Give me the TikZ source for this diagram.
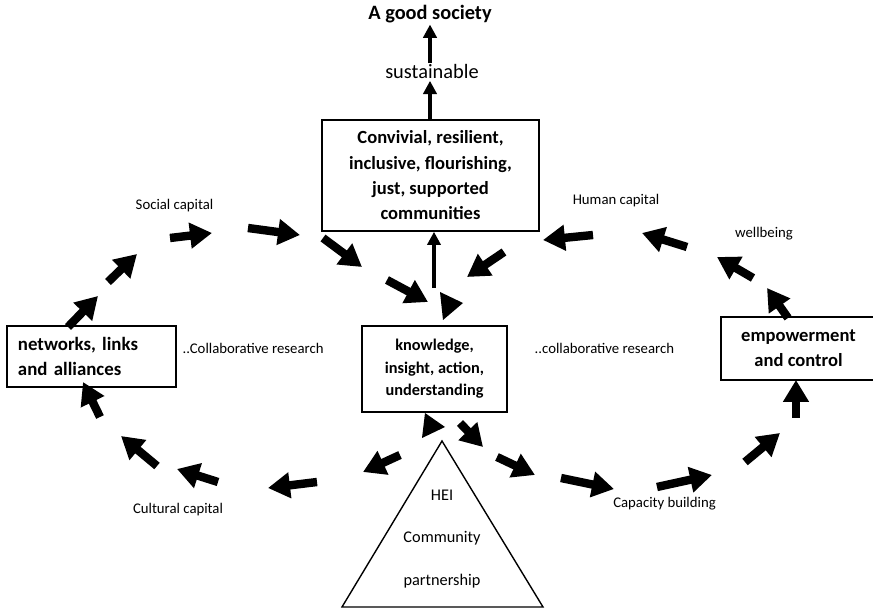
\documentclass[tikz,border=0pt]{standalone}
\usepackage{fontspec}
\setmainfont{Carlito}
\usetikzlibrary{arrows.meta,positioning,calc}
\def\boxline{0.4mm}
\def\labelsize{\fontsize{10.5}{12}\selectfont}
\def\boxsize{\fontsize{13.2}{18}\selectfont}

\tikzset{
  box/.style={draw, line width=\boxline, inner sep=0pt, align=center, font=\boxsize\bfseries},
  label/.style={font=\labelsize, inner sep=1pt},
  blockarrow/.style={line width=2.1mm, -{Triangle[length=5.5mm,width=6.2mm]}},
  thinarrow/.style={line width=0.9mm, -{Triangle[length=3.3mm,width=3.3mm]}},
}

\begin{document}
\begin{tikzpicture}[x=0.25mm, y=-0.25mm]
  \useasboundingbox (0,0) rectangle (873,610);

  % top of the chain
  \node[font=\fontsize{14.5}{16}\selectfont\bfseries, inner sep=1pt] (goodsoc) at (430,14) {A good society};
  \node[font=\fontsize{14.5}{16}\selectfont, inner sep=1pt] (sust) at (432,72) {sustainable};

  \node[box, minimum width=54.25mm, minimum height=27.75mm] (community) at (430.5,175.5)
    {Convivial, resilient,\\inclusive, flourishing,\\just, supported\\communities};

  \node[box, minimum width=36.25mm, minimum height=21.5mm, font=\fontsize{11.6}{16}\selectfont\bfseries] (knowledge) at (434.5,369)
    {knowledge,\\insight, action,\\understanding};

  \node[box, text width=36.75mm, inner xsep=2.75mm, minimum height=15.25mm, align=left,
        font=\fontsize{13.4}{18.4}\selectfont\bfseries] (networks) at (91.5,356.5)
    {networks, links\\and alliances};

  \node[box, minimum width=38.75mm, minimum height=15.75mm] (empower) at (798.5,348.5)
    {empowerment\\and control};

  \coordinate (stem) at (430,0);
  \draw[thinarrow] (stem |- community.north) -- (stem |- sust.south);
  \draw[thinarrow] (stem |- sust.north) -- (stem |- goodsoc.south);
  \coordinate (feedback) at (434,288);
  \draw[thinarrow] (feedback) -- (feedback |- community.south);

  % labels round the cycle
  \node[label] (social) at (174.5,206) {Social capital};
  \node[label] (human) at (616,201) {Human capital};
  \node[label] (wellbeing) at (764,234) {wellbeing};
  \node[label] (cultural) at (178,510) {Cultural capital};
  \node[label] (capacity) at (664.5,504) {Capacity building};
  \node[label, anchor=west] (collabA) at (181,348) {..Collaborative research};
  \node[label, anchor=west] (collabB) at (533,348) {..collaborative research};

  % the cycle of block arrows
  \foreach \tx/\ty/\hx/\hy in {
      68/327/98/296, 108/282/137/254, 170/238/212/233, 248/228/300/235,
      323/238/362/267, 387/280/428/302, 504/252/467/277, 593/235/543/240,
      687/247/642/233, 753/278/717/257, 788/318/767/288, 796/418/796/380,
      745/462/780/433, 657/487/712/475, 561/478/614/489, 497/457/535/475,
      460/423/483/447, 400/455/363/472, 317/482/268/488, 218/482/177/469,
      157/466/121/436, 100/417/83/382}
    \draw[blockarrow] (\tx,\ty) -- (\hx,\hy);

  % loose heads at the knowledge box
  \fill (440,292) -- (463,303) -- (443,320) -- cycle;
  \fill (425,413) -- (445,427) -- (422,438) -- cycle;

  % partnership
  \draw[line width=0.35mm] (442,441) coordinate (apex) -- (342,607) -- (543,607) -- cycle;
  \node[font=\fontsize{11.6}{14}\selectfont] (hei) at (442,495) {HEI};
  \node[font=\fontsize{11.6}{14}\selectfont] (comm) at (442,538) {Community};
  \node[font=\fontsize{11.6}{14}\selectfont] (partner) at (442,581) {partnership};

\end{tikzpicture}
\end{document}
